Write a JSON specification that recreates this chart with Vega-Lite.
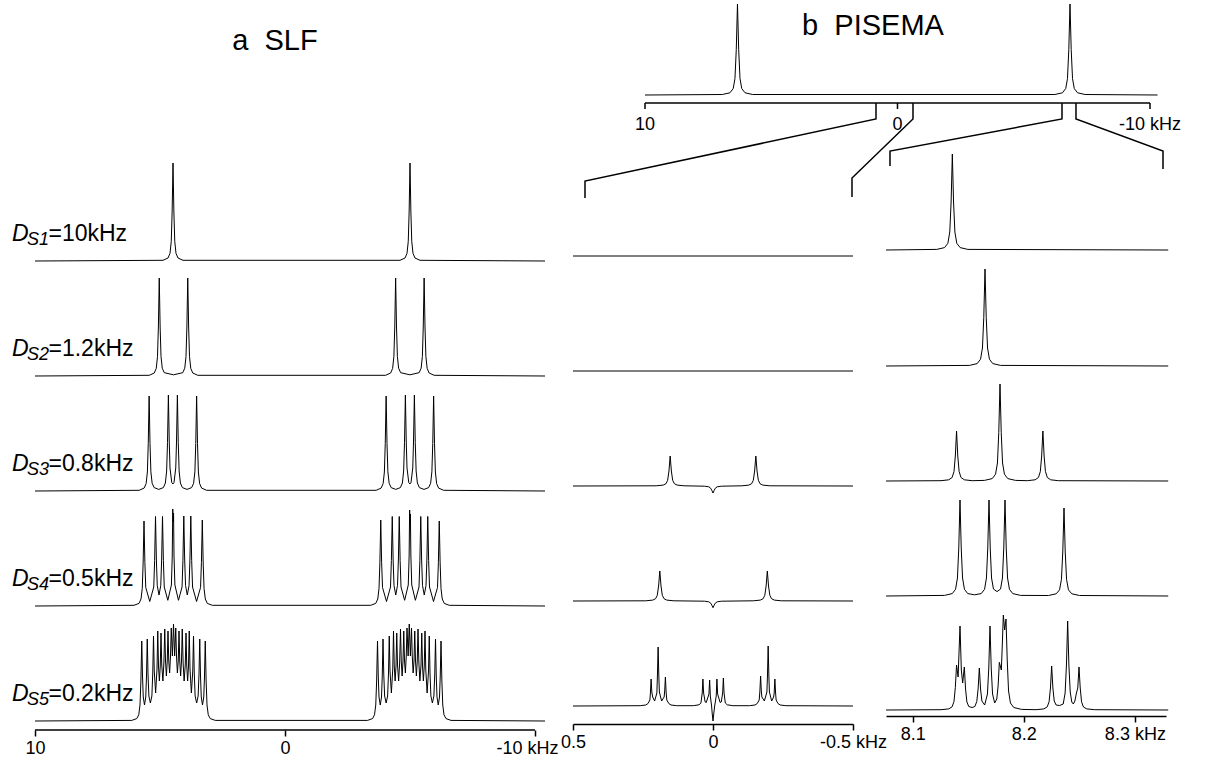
{
"$schema":"https://vega.github.io/schema/vega-lite/v6.json",
"padding":0,
"background":"white",
"bounds":"flush",
"columns":3,
"spacing":{"row":0,"column":33},
"align":{"row":"each","column":"each"},
"config":{"view":{"stroke":null},"font":"Liberation Sans","axis":{"labelFont":"Liberation Sans","labelFontSize":18,"labelColor":"black","tickColor":"black","tickWidth":1.5,"tickSize":6,"domainColor":"black","domainWidth":1.5,"grid":false,"labelFlush":false,"labelOverlap":false,"labelPadding":3},"text":{"font":"Liberation Sans","color":"black"}},
"datasets":{
"T":[{"f":10,"v":0},{"f":6.937,"v":0.5},{"f":6.637,"v":2.2},{"f":6.507,"v":6.4},{"f":6.437,"v":16.4},{"f":6.3845,"v":45.5},{"f":6.337,"v":91},{"f":6.2895,"v":45.5},{"f":6.237,"v":16.4},{"f":6.167,"v":6.4},{"f":6.037,"v":2.2},{"f":5.737,"v":0.5},{"f":-6.232,"v":0.5},{"f":-6.532,"v":2.2},{"f":-6.662,"v":6.4},{"f":-6.732,"v":16.4},{"f":-6.7845,"v":45.5},{"f":-6.832,"v":91},{"f":-6.8795,"v":45.5},{"f":-6.932,"v":16.4},{"f":-7.002,"v":6.4},{"f":-7.132,"v":2.2},{"f":-7.432,"v":0.5},{"f":-10.3,"v":0}],
"axT":[{"a":10,"b":-10}],
"tkT":[{"t":10,"lab":"10"},{"t":0,"lab":"0"},{"t":-10,"lab":"-10 kHz"}],
"axL":[{"a":10,"b":-10}],
"Z":[{"seg":1,"o":1,"f":0.851,"v":-8},{"seg":1,"o":2,"f":0.851,"v":-24},{"seg":1,"o":3,"f":12.376,"v":-86},{"seg":1,"o":4,"f":12.376,"v":-103},
{"seg":2,"o":1,"f":-0.614,"v":-8},{"seg":2,"o":2,"f":-0.614,"v":-24},{"seg":2,"o":3,"f":1.802,"v":-83},{"seg":2,"o":4,"f":1.802,"v":-102},
{"seg":3,"o":1,"f":-6.515,"v":-8},{"seg":3,"o":2,"f":-6.515,"v":-24},{"seg":3,"o":3,"f":0.297,"v":-56},{"seg":3,"o":4,"f":0.297,"v":-71},
{"seg":4,"o":1,"f":-7.069,"v":-8},{"seg":4,"o":2,"f":-7.069,"v":-24},{"seg":4,"o":3,"f":-10.515,"v":-56},{"seg":4,"o":4,"f":-10.515,"v":-74}],
"L1":[{"f":10,"v":0},{"f":4.88,"v":0.7},{"f":4.68,"v":3},{"f":4.6,"v":7.6},{"f":4.55,"v":19.6},{"f":4.515,"v":49},{"f":4.48,"v":98},{"f":4.445,"v":49},{"f":4.41,"v":19.6},{"f":4.36,"v":7.6},{"f":4.28,"v":3},{"f":4.08,"v":0.7},{"f":-4.6,"v":0.7},{"f":-4.8,"v":3},{"f":-4.88,"v":7.6},{"f":-4.93,"v":19.6},{"f":-4.965,"v":49},{"f":-5,"v":98},{"f":-5.035,"v":49},{"f":-5.07,"v":19.6},{"f":-5.12,"v":7.6},{"f":-5.2,"v":3},{"f":-5.4,"v":0.7},{"f":-10.4,"v":0}],
"L2":[{"f":10,"v":0},{"f":5.43,"v":0.7},{"f":5.23,"v":3},{"f":5.15,"v":7.6},{"f":5.1,"v":19.6},{"f":5.065,"v":49},{"f":5.03,"v":98},{"f":4.995,"v":49},{"f":4.96,"v":19.6},{"f":4.91,"v":7.8},{"f":4.83,"v":3.3},{"f":4.46,"v":1.2},{"f":4.09,"v":3.3},{"f":4.01,"v":7.8},{"f":3.96,"v":19.6},{"f":3.925,"v":49},{"f":3.89,"v":98},{"f":3.855,"v":49},{"f":3.82,"v":19.6},{"f":3.77,"v":7.6},{"f":3.69,"v":3},{"f":3.49,"v":0.7},
{"f":-4.025,"v":0.7},{"f":-4.225,"v":3},{"f":-4.305,"v":7.6},{"f":-4.355,"v":19.6},{"f":-4.39,"v":49},{"f":-4.425,"v":98},{"f":-4.46,"v":49},{"f":-4.495,"v":19.6},{"f":-4.545,"v":7.8},{"f":-4.625,"v":3.3},{"f":-4.995,"v":1.2},{"f":-5.365,"v":3.3},{"f":-5.445,"v":7.8},{"f":-5.495,"v":19.6},{"f":-5.53,"v":49},{"f":-5.565,"v":98},{"f":-5.6,"v":49},{"f":-5.635,"v":19.6},{"f":-5.685,"v":7.6},{"f":-5.765,"v":3},{"f":-5.965,"v":0.7},{"f":-10.4,"v":0}],
"L3":[{"f":10,"v":0},{"f":5.835,"v":0.7},{"f":5.635,"v":2.9},{"f":5.555,"v":7.4},{"f":5.505,"v":19},{"f":5.47,"v":47.5},{"f":5.435,"v":95},{"f":5.4,"v":47.5},{"f":5.365,"v":19.2},{"f":5.315,"v":7.8},{"f":5.235,"v":3.4},{"f":5.05,"v":1.6},{"f":4.865,"v":3.4},{"f":4.785,"v":8},{"f":4.735,"v":20},{"f":4.7,"v":48.5},{"f":4.665,"v":96},{"f":4.63,"v":49},{"f":4.6,"v":23},{"f":4.53,"v":8.5},{"f":4.485,"v":7},{"f":4.44,"v":8.5},{"f":4.37,"v":23},{"f":4.34,"v":49},{"f":4.305,"v":96},{"f":4.27,"v":48.5},{"f":4.235,"v":20},{"f":4.185,"v":8},{"f":4.105,"v":3.4},{"f":3.92,"v":1.6},{"f":3.735,"v":3.4},{"f":3.655,"v":7.8},{"f":3.605,"v":19.2},{"f":3.57,"v":47.5},{"f":3.535,"v":95},{"f":3.5,"v":47.5},{"f":3.465,"v":19},{"f":3.415,"v":7.4},{"f":3.335,"v":2.9},{"f":3.135,"v":0.7},
{"f":-3.645,"v":0.7},{"f":-3.845,"v":2.9},{"f":-3.925,"v":7.4},{"f":-3.975,"v":19},{"f":-4.01,"v":47.5},{"f":-4.045,"v":95},{"f":-4.08,"v":47.5},{"f":-4.115,"v":19.2},{"f":-4.165,"v":7.8},{"f":-4.245,"v":3.4},{"f":-4.43,"v":1.6},{"f":-4.615,"v":3.4},{"f":-4.695,"v":8},{"f":-4.745,"v":20},{"f":-4.78,"v":48.5},{"f":-4.815,"v":96},{"f":-4.85,"v":49},{"f":-4.88,"v":23},{"f":-4.95,"v":8.5},{"f":-4.995,"v":7},{"f":-5.04,"v":8.5},{"f":-5.11,"v":23},{"f":-5.14,"v":49},{"f":-5.175,"v":96},{"f":-5.21,"v":48.5},{"f":-5.245,"v":20},{"f":-5.295,"v":8},{"f":-5.375,"v":3.4},{"f":-5.56,"v":1.6},{"f":-5.745,"v":3.4},{"f":-5.825,"v":7.8},{"f":-5.875,"v":19.2},{"f":-5.91,"v":47.5},{"f":-5.945,"v":95},{"f":-5.98,"v":47.5},{"f":-6.015,"v":19},{"f":-6.065,"v":7.4},{"f":-6.145,"v":2.9},{"f":-6.345,"v":0.7},{"f":-10.4,"v":0}],
"L4":[{"f":10,"v":0},{"f":6.04,"v":0.7},{"f":5.84,"v":2.6},{"f":5.76,"v":7},{"f":5.71,"v":17.5},{"f":5.675,"v":43},{"f":5.64,"v":85},{"f":5.605,"v":43.5},{"f":5.57,"v":18.5},{"f":5.41,"v":4.5},{"f":5.25,"v":19},{"f":5.215,"v":45.5},{"f":5.18,"v":89.5},{"f":5.145,"v":46},{"f":5.11,"v":20.5},{"f":5.04,"v":11},{"f":4.97,"v":20.5},{"f":4.935,"v":46},{"f":4.9,"v":89.5},{"f":4.865,"v":45.5},{"f":4.83,"v":19},{"f":4.687,"v":5.7},{"f":4.544,"v":21},{"f":4.51,"v":50},{"f":4.49,"v":97},{"f":4.474,"v":84},{"f":4.458,"v":93},{"f":4.44,"v":50},{"f":4.404,"v":21},{"f":4.261,"v":5.7},{"f":4.118,"v":19},{"f":4.083,"v":45.5},{"f":4.048,"v":90},{"f":4.013,"v":46},{"f":3.978,"v":20.5},{"f":3.908,"v":11},{"f":3.838,"v":20.5},{"f":3.803,"v":46},{"f":3.768,"v":90},{"f":3.733,"v":45.5},{"f":3.698,"v":19},{"f":3.538,"v":4.5},{"f":3.378,"v":18.5},{"f":3.343,"v":43.5},{"f":3.308,"v":86},{"f":3.273,"v":43},{"f":3.238,"v":17.5},{"f":3.188,"v":7},{"f":3.108,"v":2.6},{"f":2.908,"v":0.7},
{"f":-3.43,"v":0.7},{"f":-3.63,"v":2.6},{"f":-3.71,"v":7},{"f":-3.76,"v":17.5},{"f":-3.795,"v":43},{"f":-3.83,"v":86},{"f":-3.865,"v":43.5},{"f":-3.9,"v":18.5},{"f":-4.06,"v":4.5},{"f":-4.22,"v":19},{"f":-4.255,"v":45.5},{"f":-4.29,"v":89.5},{"f":-4.325,"v":46},{"f":-4.36,"v":20.5},{"f":-4.43,"v":11},{"f":-4.5,"v":20.5},{"f":-4.535,"v":46},{"f":-4.57,"v":89.5},{"f":-4.605,"v":45.5},{"f":-4.64,"v":19},{"f":-4.785,"v":5.7},{"f":-4.93,"v":21},{"f":-4.965,"v":50},{"f":-4.985,"v":96},{"f":-5.0,"v":84},{"f":-5.015,"v":92},{"f":-5.035,"v":50},{"f":-5.07,"v":21},{"f":-5.215,"v":5.7},{"f":-5.36,"v":19},{"f":-5.395,"v":45.5},{"f":-5.43,"v":89.5},{"f":-5.465,"v":46},{"f":-5.5,"v":20.5},{"f":-5.57,"v":11},{"f":-5.64,"v":20.5},{"f":-5.675,"v":46},{"f":-5.71,"v":89.5},{"f":-5.745,"v":45.5},{"f":-5.78,"v":19},{"f":-5.94,"v":4.5},{"f":-6.1,"v":18.5},{"f":-6.135,"v":43.5},{"f":-6.17,"v":85},{"f":-6.205,"v":43},{"f":-6.24,"v":17.5},{"f":-6.29,"v":7},{"f":-6.37,"v":2.6},{"f":-6.57,"v":0.7},{"f":-10.4,"v":0}],
"L5":[{"f":10,"v":0},{"f":6.13,"v":0.6},{"f":5.93,"v":2.4},{"f":5.85,"v":6.2},{"f":5.8,"v":16},{"f":5.765,"v":40},{"f":5.73,"v":80},{"f":5.7,"v":45},{"f":5.67,"v":24},{"f":5.62,"v":16},{"f":5.57,"v":24},{"f":5.54,"v":45},{"f":5.51,"v":82},{"f":5.48,"v":47},{"f":5.445,"v":25},{"f":5.385,"v":18},{"f":5.325,"v":25},{"f":5.29,"v":48},{"f":5.26,"v":85},{"f":5.23,"v":50},{"f":5.175,"v":28},{"f":5.12,"v":52},{"f":5.09,"v":90},{"f":5.06,"v":55},{"f":5.025,"v":40},{"f":4.99,"v":55},{"f":4.96,"v":88},{"f":4.93,"v":56},{"f":4.885,"v":40},{"f":4.845,"v":58},{"f":4.81,"v":92},{"f":4.78,"v":60},{"f":4.745,"v":45},{"f":4.71,"v":60},{"f":4.68,"v":90},{"f":4.65,"v":60},{"f":4.615,"v":48},{"f":4.58,"v":65},{"f":4.55,"v":93},{"f":4.505,"v":65},{"f":4.46,"v":97},{"f":4.415,"v":65},{"f":4.37,"v":93},{"f":4.34,"v":65},{"f":4.305,"v":48},{"f":4.27,"v":60},{"f":4.24,"v":90},{"f":4.21,"v":60},{"f":4.175,"v":45},{"f":4.14,"v":60},{"f":4.11,"v":92},{"f":4.075,"v":58},{"f":4.035,"v":40},{"f":3.99,"v":56},{"f":3.96,"v":88},{"f":3.93,"v":55},{"f":3.895,"v":40},{"f":3.86,"v":55},{"f":3.83,"v":90},{"f":3.8,"v":52},{"f":3.745,"v":28},{"f":3.69,"v":50},{"f":3.66,"v":85},{"f":3.63,"v":48},{"f":3.595,"v":25},{"f":3.535,"v":18},{"f":3.475,"v":25},{"f":3.44,"v":47},{"f":3.41,"v":82},{"f":3.38,"v":45},{"f":3.35,"v":24},{"f":3.3,"v":16},{"f":3.25,"v":24},{"f":3.22,"v":45},{"f":3.19,"v":80},{"f":3.155,"v":40},{"f":3.12,"v":16},{"f":3.07,"v":6.2},{"f":2.99,"v":2.4},{"f":2.79,"v":0.6},
{"f":-3.3,"v":0.6},{"f":-3.5,"v":2.4},{"f":-3.58,"v":6.2},{"f":-3.63,"v":16},{"f":-3.665,"v":40},{"f":-3.7,"v":80},{"f":-3.73,"v":45},{"f":-3.76,"v":24},{"f":-3.81,"v":16},{"f":-3.86,"v":24},{"f":-3.89,"v":45},{"f":-3.92,"v":82},{"f":-3.95,"v":47},{"f":-3.985,"v":25},{"f":-4.045,"v":18},{"f":-4.105,"v":25},{"f":-4.14,"v":48},{"f":-4.17,"v":85},{"f":-4.2,"v":50},{"f":-4.255,"v":28},{"f":-4.31,"v":52},{"f":-4.34,"v":90},{"f":-4.37,"v":55},{"f":-4.405,"v":40},{"f":-4.44,"v":55},{"f":-4.47,"v":88},{"f":-4.5,"v":56},{"f":-4.545,"v":40},{"f":-4.585,"v":58},{"f":-4.62,"v":92},{"f":-4.65,"v":60},{"f":-4.685,"v":45},{"f":-4.72,"v":60},{"f":-4.75,"v":90},{"f":-4.78,"v":60},{"f":-4.815,"v":48},{"f":-4.85,"v":65},{"f":-4.88,"v":93},{"f":-4.925,"v":65},{"f":-4.97,"v":97},{"f":-5.015,"v":65},{"f":-5.06,"v":93},{"f":-5.09,"v":65},{"f":-5.125,"v":48},{"f":-5.16,"v":60},{"f":-5.19,"v":90},{"f":-5.22,"v":60},{"f":-5.255,"v":45},{"f":-5.29,"v":60},{"f":-5.32,"v":92},{"f":-5.355,"v":58},{"f":-5.395,"v":40},{"f":-5.44,"v":56},{"f":-5.47,"v":88},{"f":-5.5,"v":55},{"f":-5.535,"v":40},{"f":-5.57,"v":55},{"f":-5.6,"v":90},{"f":-5.63,"v":52},{"f":-5.685,"v":28},{"f":-5.74,"v":50},{"f":-5.77,"v":85},{"f":-5.8,"v":48},{"f":-5.835,"v":25},{"f":-5.895,"v":18},{"f":-5.955,"v":25},{"f":-5.99,"v":47},{"f":-6.02,"v":82},{"f":-6.05,"v":45},{"f":-6.08,"v":24},{"f":-6.13,"v":16},{"f":-6.18,"v":24},{"f":-6.21,"v":45},{"f":-6.24,"v":80},{"f":-6.275,"v":40},{"f":-6.31,"v":16},{"f":-6.36,"v":6.2},{"f":-6.44,"v":2.4},{"f":-6.64,"v":0.6},{"f":-10.4,"v":0}],
"M1":[{"f":0.5,"v":0},{"f":0,"v":0},{"f":-0.5,"v":0}],
"M2":[{"f":0.5,"v":0},{"f":0,"v":0},{"f":-0.5,"v":0}],
"M3":[{"f":0.5,"v":0},{"f":0.203,"v":0.2},{"f":0.178,"v":0.9},{"f":0.168,"v":2.3},{"f":0.162,"v":5.7},{"f":0.1573,"v":15},{"f":0.153,"v":30},{"f":0.1487,"v":15},{"f":0.144,"v":5.7},{"f":0.138,"v":2.3},{"f":0.128,"v":0.9},{"f":0.103,"v":0.2},{"f":0.03,"v":-0.2},{"f":0.015,"v":-0.8},{"f":0.008,"v":-2.3},{"f":0.004,"v":-4.5},{"f":0,"v":-7},{"f":-0.004,"v":-4.5},{"f":-0.008,"v":-2.3},{"f":-0.015,"v":-0.8},{"f":-0.03,"v":-0.2},{"f":-0.103,"v":0.2},{"f":-0.128,"v":0.9},{"f":-0.138,"v":2.3},{"f":-0.144,"v":5.7},{"f":-0.1487,"v":15},{"f":-0.153,"v":30},{"f":-0.1573,"v":15},{"f":-0.162,"v":5.7},{"f":-0.168,"v":2.3},{"f":-0.178,"v":0.9},{"f":-0.203,"v":0.2},{"f":-0.5,"v":0}],
"M4":[{"f":0.5,"v":0},{"f":0.24,"v":0.2},{"f":0.215,"v":0.9},{"f":0.205,"v":2.3},{"f":0.199,"v":5.7},{"f":0.1943,"v":15},{"f":0.19,"v":30},{"f":0.1857,"v":15},{"f":0.181,"v":5.7},{"f":0.175,"v":2.3},{"f":0.165,"v":0.9},{"f":0.14,"v":0.2},{"f":0.03,"v":-0.2},{"f":0.015,"v":-0.8},{"f":0.008,"v":-2.2},{"f":0.004,"v":-4.3},{"f":0,"v":-6.7},{"f":-0.004,"v":-4.3},{"f":-0.008,"v":-2.2},{"f":-0.015,"v":-0.8},{"f":-0.03,"v":-0.2},{"f":-0.144,"v":0.2},{"f":-0.169,"v":0.9},{"f":-0.179,"v":2.3},{"f":-0.185,"v":5.7},{"f":-0.1897,"v":15},{"f":-0.194,"v":30},{"f":-0.1983,"v":15},{"f":-0.203,"v":5.7},{"f":-0.209,"v":2.3},{"f":-0.219,"v":0.9},{"f":-0.244,"v":0.2},{"f":-0.5,"v":0}],
"M5":[{"f":0.5,"v":0},{"f":0.26,"v":0.3},{"f":0.24,"v":1},{"f":0.232,"v":2.5},{"f":0.2255,"v":6},{"f":0.2235,"v":13},{"f":0.221,"v":27},{"f":0.2185,"v":14},{"f":0.2155,"v":9},{"f":0.2085,"v":5},{"f":0.2005,"v":13},{"f":0.1985,"v":30},{"f":0.196,"v":59},{"f":0.1935,"v":30},{"f":0.1915,"v":14},{"f":0.1835,"v":5},{"f":0.1745,"v":9},{"f":0.1725,"v":15},{"f":0.17,"v":29},{"f":0.1675,"v":14},{"f":0.165,"v":6},{"f":0.158,"v":2.5},{"f":0.15,"v":1},{"f":0.13,"v":0.3},{"f":0.07,"v":0.3},{"f":0.05,"v":1.2},{"f":0.043,"v":3},{"f":0.0385,"v":13},{"f":0.036,"v":27},{"f":0.0335,"v":13},{"f":0.028,"v":4},{"f":0.024,"v":3.5},{"f":0.0145,"v":12},{"f":0.012,"v":26},{"f":0.0095,"v":10},{"f":0.005,"v":0},{"f":0.003,"v":-7},{"f":0,"v":-15},{"f":-0.003,"v":-7},{"f":-0.006,"v":0},{"f":-0.0115,"v":10},{"f":-0.014,"v":27},{"f":-0.0165,"v":12},{"f":-0.0255,"v":3.5},{"f":-0.0295,"v":4},{"f":-0.0345,"v":13},{"f":-0.037,"v":28},{"f":-0.0395,"v":13},{"f":-0.044,"v":3},{"f":-0.051,"v":1.2},{"f":-0.071,"v":0.3},{"f":-0.13,"v":0.3},{"f":-0.15,"v":1},{"f":-0.158,"v":2.5},{"f":-0.165,"v":6},{"f":-0.1675,"v":15},{"f":-0.17,"v":30},{"f":-0.1725,"v":15},{"f":-0.1745,"v":9},{"f":-0.1835,"v":5},{"f":-0.1925,"v":14},{"f":-0.1945,"v":30},{"f":-0.197,"v":60},{"f":-0.1995,"v":30},{"f":-0.2015,"v":14},{"f":-0.2095,"v":5},{"f":-0.2165,"v":9},{"f":-0.2185,"v":13},{"f":-0.221,"v":27},{"f":-0.2235,"v":13},{"f":-0.2255,"v":6},{"f":-0.232,"v":2.5},{"f":-0.24,"v":1},{"f":-0.26,"v":0.3},{"f":-0.5,"v":0}],
"R1":[{"f":8.076,"v":0},{"f":8.1217,"v":0.6},{"f":8.1287,"v":2.4},{"f":8.1317,"v":6.7},{"f":8.1334,"v":18},{"f":8.1346,"v":48},{"f":8.1357,"v":96},{"f":8.1368,"v":48},{"f":8.138,"v":18},{"f":8.1397,"v":6.7},{"f":8.1427,"v":2.4},{"f":8.1497,"v":0.6},{"f":8.33,"v":0}],
"R2":[{"f":8.076,"v":0},{"f":8.1511,"v":0.6},{"f":8.1581,"v":2.4},{"f":8.1611,"v":6.8},{"f":8.1628,"v":18},{"f":8.164,"v":48.5},{"f":8.1651,"v":97},{"f":8.1662,"v":48.5},{"f":8.1674,"v":18},{"f":8.1691,"v":6.8},{"f":8.1721,"v":2.4},{"f":8.1791,"v":0.6},{"f":8.33,"v":0}],
"R3":[{"f":8.076,"v":0},{"f":8.1255,"v":0.3},{"f":8.1325,"v":1.2},{"f":8.1355,"v":3.5},{"f":8.1372,"v":9.5},{"f":8.1384,"v":25},{"f":8.1395,"v":50},{"f":8.1406,"v":25},{"f":8.1418,"v":9.5},{"f":8.1435,"v":3.5},{"f":8.1465,"v":1.2},{"f":8.1535,"v":0.3},{"f":8.1646,"v":0.6},{"f":8.1716,"v":2.4},{"f":8.1746,"v":6.8},{"f":8.1763,"v":18},{"f":8.1775,"v":48.5},{"f":8.1786,"v":97},{"f":8.1797,"v":48.5},{"f":8.1809,"v":18},{"f":8.1826,"v":6.8},{"f":8.1856,"v":2.4},{"f":8.1926,"v":0.6},{"f":8.2032,"v":0.3},{"f":8.2102,"v":1.2},{"f":8.2132,"v":3.5},{"f":8.2149,"v":9.5},{"f":8.2161,"v":25},{"f":8.2172,"v":50},{"f":8.2183,"v":25},{"f":8.2195,"v":9.5},{"f":8.2212,"v":3.5},{"f":8.2242,"v":1.2},{"f":8.2312,"v":0.3},{"f":8.33,"v":0}],
"R4":[{"f":8.076,"v":0},{"f":8.1286,"v":0.6},{"f":8.1356,"v":2.4},{"f":8.1386,"v":6.7},{"f":8.1403,"v":18},{"f":8.1415,"v":48},{"f":8.1426,"v":96},{"f":8.1437,"v":48},{"f":8.1449,"v":18},{"f":8.1466,"v":6.7},{"f":8.1496,"v":2.4},{"f":8.1557,"v":1.2},{"f":8.1617,"v":2.4},{"f":8.1647,"v":6.7},{"f":8.1664,"v":18},{"f":8.1676,"v":48},{"f":8.1687,"v":96},{"f":8.1698,"v":48},{"f":8.171,"v":18},{"f":8.1727,"v":7},{"f":8.1759,"v":4.4},{"f":8.1791,"v":7},{"f":8.1808,"v":18},{"f":8.182,"v":48},{"f":8.1831,"v":96},{"f":8.1842,"v":48},{"f":8.1854,"v":18},{"f":8.1871,"v":6.7},{"f":8.1901,"v":2.4},{"f":8.1971,"v":0.6},{"f":8.2222,"v":0.5},{"f":8.2292,"v":2.2},{"f":8.2322,"v":6.2},{"f":8.2339,"v":16.7},{"f":8.2351,"v":44},{"f":8.2362,"v":88},{"f":8.2373,"v":44},{"f":8.2385,"v":16.7},{"f":8.2402,"v":6.2},{"f":8.2432,"v":2.2},{"f":8.2502,"v":0.5},{"f":8.33,"v":0}],
"R5":[{"f":8.076,"v":0},{"f":8.1255,"v":0.3},{"f":8.1325,"v":1.1},{"f":8.1355,"v":3.2},{"f":8.1372,"v":8.6},{"f":8.1384,"v":22.5},{"f":8.1395,"v":45},{"f":8.1409,"v":33},{"f":8.1426,"v":84},{"f":8.1438,"v":40},{"f":8.145,"v":27},{"f":8.1465,"v":43},{"f":8.1476,"v":21},{"f":8.1488,"v":8},{"f":8.1505,"v":3.5},{"f":8.1535,"v":2.5},{"f":8.156,"v":3.5},{"f":8.1577,"v":8.5},{"f":8.1589,"v":21},{"f":8.16,"v":42},{"f":8.1611,"v":21},{"f":8.1623,"v":9},{"f":8.1648,"v":5},{"f":8.1673,"v":16},{"f":8.1685,"v":42},{"f":8.1696,"v":84},{"f":8.1707,"v":42},{"f":8.1719,"v":16},{"f":8.1738,"v":7},{"f":8.1757,"v":11},{"f":8.1769,"v":24},{"f":8.178,"v":47.6},{"f":8.1798,"v":40},{"f":8.1805,"v":60},{"f":8.1816,"v":95},{"f":8.1828,"v":80},{"f":8.184,"v":91},{"f":8.1851,"v":50},{"f":8.1863,"v":19},{"f":8.188,"v":7},{"f":8.191,"v":2.5},{"f":8.198,"v":0.6},{"f":8.2111,"v":0.3},{"f":8.2181,"v":1.1},{"f":8.2211,"v":3.1},{"f":8.2228,"v":8.4},{"f":8.224,"v":22},{"f":8.2251,"v":44},{"f":8.2262,"v":22},{"f":8.2274,"v":9},{"f":8.2291,"v":5},{"f":8.2323,"v":4.5},{"f":8.2355,"v":6},{"f":8.2372,"v":17},{"f":8.2384,"v":45},{"f":8.2395,"v":89},{"f":8.2406,"v":45},{"f":8.2418,"v":18},{"f":8.2432,"v":8},{"f":8.2446,"v":6},{"f":8.246,"v":9},{"f":8.2474,"v":17},{"f":8.2486,"v":22},{"f":8.2497,"v":43},{"f":8.2508,"v":22},{"f":8.252,"v":8.2},{"f":8.2537,"v":3},{"f":8.2567,"v":1.1},{"f":8.2637,"v":0.3},{"f":8.33,"v":0}]
},
"concat":[
 {"width":540,"height":149,"data":{"values":[{"t":"a\u00a0\u00a0SLF"}]},"mark":{"type":"text","fontSize":29,"align":"center","baseline":"middle"},"encoding":{"text":{"field":"t"},"x":{"datum":0.4,"type":"quantitative","scale":{"domain":[11.4,-10.2],"nice":false},"axis":null},"y":{"datum":109,"type":"quantitative","scale":{"domain":[0,149],"nice":false},"axis":null}}},
 {"width":280,"height":102,"layer":[
  {"data":{"name":"T"},"mark":{"type":"line","color":"black","strokeWidth":1},"encoding":{"x":{"field":"f","type":"quantitative","scale":{"domain":[12.851,1.762],"nice":false},"axis":null},"y":{"field":"v","type":"quantitative","scale":{"domain":[-8,94],"nice":false},"axis":null}}},
  {"data":{"name":"axT"},"mark":{"type":"rule","color":"black","strokeWidth":1.5},"encoding":{"x":{"field":"a","type":"quantitative","scale":{"domain":[12.851,1.762],"nice":false},"axis":null},"x2":{"field":"b"},"y":{"datum":-8,"type":"quantitative","scale":{"domain":[-8,94],"nice":false},"axis":null}}},
  {"data":{"name":"tkT"},"mark":{"type":"rule","color":"black","strokeWidth":1.5},"encoding":{"x":{"field":"t","type":"quantitative","scale":{"domain":[12.851,1.762],"nice":false},"axis":null},"y":{"datum":-8,"type":"quantitative","scale":{"domain":[-8,94],"nice":false},"axis":null},"y2":{"datum":-14}}},
  {"data":{"name":"tkT"},"mark":{"type":"text","fontSize":18,"align":"center","baseline":"top"},"encoding":{"text":{"field":"lab"},"x":{"field":"t","type":"quantitative","scale":{"domain":[12.851,1.762],"nice":false},"axis":null},"y":{"datum":-21,"type":"quantitative","scale":{"domain":[-8,94],"nice":false},"axis":null}}},
  {"data":{"name":"Z"},"mark":{"type":"line","color":"black","strokeWidth":1.5},"encoding":{"x":{"field":"f","type":"quantitative","scale":{"domain":[12.851,1.762],"nice":false},"axis":null},"y":{"field":"v","type":"quantitative","scale":{"domain":[-8,94],"nice":false},"axis":null},"detail":{"field":"seg","type":"nominal"},"order":{"field":"o","type":"quantitative"}}},
  {"data":{"values":[{"t":"b\u00a0\u00a0PISEMA"}]},"mark":{"type":"text","fontSize":29,"align":"center","baseline":"middle"},"encoding":{"text":{"field":"t"},"x":{"datum":0.97,"type":"quantitative","scale":{"domain":[12.851,1.762],"nice":false},"axis":null},"y":{"datum":69,"type":"quantitative","scale":{"domain":[-8,94],"nice":false},"axis":null}}}
 ]},
 {"width":10,"height":10,"data":{"values":[{"t":""}]},"mark":{"type":"text"},"encoding":{"text":{"field":"t"}}},
 {"width":540,"height":115,"layer":[
  {"data":{"name":"L1"},"mark":{"type":"line","color":"black","strokeWidth":1},"encoding":{"x":{"field":"f","type":"quantitative","scale":{"domain":[11.4,-10.2],"nice":false},"axis":null},"y":{"field":"v","type":"quantitative","scale":{"domain":[-4,111],"nice":false},"axis":null}}},
  {"data":{"values":[{"d":"D","s":"S1","e":"=10kHz"}]},"encoding":{"x":{"datum":10.92,"type":"quantitative","scale":{"domain":[11.4,-10.2],"nice":false},"axis":null},"y":{"datum":20,"type":"quantitative","scale":{"domain":[-4,111],"nice":false},"axis":null}},"layer":[
   {"mark":{"type":"text","fontStyle":"italic","fontSize":23,"align":"left","baseline":"alphabetic"},"encoding":{"text":{"field":"d"}}},
   {"mark":{"type":"text","fontStyle":"italic","fontSize":18,"align":"left","baseline":"alphabetic"},"encoding":{"text":{"field":"s"},"x":{"datum":10.32,"type":"quantitative","scale":{"domain":[11.4,-10.2],"nice":false},"axis":null},"y":{"datum":16,"type":"quantitative","scale":{"domain":[-4,111],"nice":false},"axis":null}}},
   {"mark":{"type":"text","fontSize":23,"align":"left","baseline":"alphabetic"},"encoding":{"text":{"field":"e"},"x":{"datum":9.46,"type":"quantitative","scale":{"domain":[11.4,-10.2],"nice":false},"axis":null}}}
  ]}
 ]},
 {"width":280,"height":115,"data":{"name":"M1"},"mark":{"type":"line","color":"black","strokeWidth":1},"encoding":{"x":{"field":"f","type":"quantitative","scale":{"domain":[0.5,-0.5],"nice":false},"axis":null},"y":{"field":"v","type":"quantitative","scale":{"domain":[-9,106],"nice":false},"axis":null}}},
 {"width":280,"height":115,"data":{"name":"R1"},"mark":{"type":"line","color":"black","strokeWidth":1},"encoding":{"x":{"field":"f","type":"quantitative","scale":{"domain":[8.076,8.328],"nice":false},"axis":null},"y":{"field":"v","type":"quantitative","scale":{"domain":[-15,100],"nice":false},"axis":null}}},
 {"width":540,"height":115,"layer":[
  {"data":{"name":"L2"},"mark":{"type":"line","color":"black","strokeWidth":1},"encoding":{"x":{"field":"f","type":"quantitative","scale":{"domain":[11.4,-10.2],"nice":false},"axis":null},"y":{"field":"v","type":"quantitative","scale":{"domain":[-4,111],"nice":false},"axis":null}}},
  {"data":{"values":[{"d":"D","s":"S2","e":"=1.2kHz"}]},"encoding":{"x":{"datum":10.92,"type":"quantitative","scale":{"domain":[11.4,-10.2],"nice":false},"axis":null},"y":{"datum":20,"type":"quantitative","scale":{"domain":[-4,111],"nice":false},"axis":null}},"layer":[
   {"mark":{"type":"text","fontStyle":"italic","fontSize":23,"align":"left","baseline":"alphabetic"},"encoding":{"text":{"field":"d"}}},
   {"mark":{"type":"text","fontStyle":"italic","fontSize":18,"align":"left","baseline":"alphabetic"},"encoding":{"text":{"field":"s"},"x":{"datum":10.32,"type":"quantitative","scale":{"domain":[11.4,-10.2],"nice":false},"axis":null},"y":{"datum":16,"type":"quantitative","scale":{"domain":[-4,111],"nice":false},"axis":null}}},
   {"mark":{"type":"text","fontSize":23,"align":"left","baseline":"alphabetic"},"encoding":{"text":{"field":"e"},"x":{"datum":9.46,"type":"quantitative","scale":{"domain":[11.4,-10.2],"nice":false},"axis":null}}}
  ]}
 ]},
 {"width":280,"height":115,"data":{"name":"M2"},"mark":{"type":"line","color":"black","strokeWidth":1},"encoding":{"x":{"field":"f","type":"quantitative","scale":{"domain":[0.5,-0.5],"nice":false},"axis":null},"y":{"field":"v","type":"quantitative","scale":{"domain":[-9,106],"nice":false},"axis":null}}},
 {"width":280,"height":115,"data":{"name":"R2"},"mark":{"type":"line","color":"black","strokeWidth":1},"encoding":{"x":{"field":"f","type":"quantitative","scale":{"domain":[8.076,8.328],"nice":false},"axis":null},"y":{"field":"v","type":"quantitative","scale":{"domain":[-14,101],"nice":false},"axis":null}}},
 {"width":540,"height":115,"layer":[
  {"data":{"name":"L3"},"mark":{"type":"line","color":"black","strokeWidth":1},"encoding":{"x":{"field":"f","type":"quantitative","scale":{"domain":[11.4,-10.2],"nice":false},"axis":null},"y":{"field":"v","type":"quantitative","scale":{"domain":[-4,111],"nice":false},"axis":null}}},
  {"data":{"values":[{"d":"D","s":"S3","e":"=0.8kHz"}]},"encoding":{"x":{"datum":10.92,"type":"quantitative","scale":{"domain":[11.4,-10.2],"nice":false},"axis":null},"y":{"datum":20,"type":"quantitative","scale":{"domain":[-4,111],"nice":false},"axis":null}},"layer":[
   {"mark":{"type":"text","fontStyle":"italic","fontSize":23,"align":"left","baseline":"alphabetic"},"encoding":{"text":{"field":"d"}}},
   {"mark":{"type":"text","fontStyle":"italic","fontSize":18,"align":"left","baseline":"alphabetic"},"encoding":{"text":{"field":"s"},"x":{"datum":10.32,"type":"quantitative","scale":{"domain":[11.4,-10.2],"nice":false},"axis":null},"y":{"datum":16,"type":"quantitative","scale":{"domain":[-4,111],"nice":false},"axis":null}}},
   {"mark":{"type":"text","fontSize":23,"align":"left","baseline":"alphabetic"},"encoding":{"text":{"field":"e"},"x":{"datum":9.46,"type":"quantitative","scale":{"domain":[11.4,-10.2],"nice":false},"axis":null}}}
  ]}
 ]},
 {"width":280,"height":115,"data":{"name":"M3"},"mark":{"type":"line","color":"black","strokeWidth":1},"encoding":{"x":{"field":"f","type":"quantitative","scale":{"domain":[0.5,-0.5],"nice":false},"axis":null},"y":{"field":"v","type":"quantitative","scale":{"domain":[-9,106],"nice":false},"axis":null}}},
 {"width":280,"height":115,"data":{"name":"R3"},"mark":{"type":"line","color":"black","strokeWidth":1},"encoding":{"x":{"field":"f","type":"quantitative","scale":{"domain":[8.076,8.328],"nice":false},"axis":null},"y":{"field":"v","type":"quantitative","scale":{"domain":[-14,101],"nice":false},"axis":null}}},
 {"width":540,"height":115,"layer":[
  {"data":{"name":"L4"},"mark":{"type":"line","color":"black","strokeWidth":1},"encoding":{"x":{"field":"f","type":"quantitative","scale":{"domain":[11.4,-10.2],"nice":false},"axis":null},"y":{"field":"v","type":"quantitative","scale":{"domain":[-4,111],"nice":false},"axis":null}}},
  {"data":{"values":[{"d":"D","s":"S4","e":"=0.5kHz"}]},"encoding":{"x":{"datum":10.92,"type":"quantitative","scale":{"domain":[11.4,-10.2],"nice":false},"axis":null},"y":{"datum":20,"type":"quantitative","scale":{"domain":[-4,111],"nice":false},"axis":null}},"layer":[
   {"mark":{"type":"text","fontStyle":"italic","fontSize":23,"align":"left","baseline":"alphabetic"},"encoding":{"text":{"field":"d"}}},
   {"mark":{"type":"text","fontStyle":"italic","fontSize":18,"align":"left","baseline":"alphabetic"},"encoding":{"text":{"field":"s"},"x":{"datum":10.32,"type":"quantitative","scale":{"domain":[11.4,-10.2],"nice":false},"axis":null},"y":{"datum":16,"type":"quantitative","scale":{"domain":[-4,111],"nice":false},"axis":null}}},
   {"mark":{"type":"text","fontSize":23,"align":"left","baseline":"alphabetic"},"encoding":{"text":{"field":"e"},"x":{"datum":9.46,"type":"quantitative","scale":{"domain":[11.4,-10.2],"nice":false},"axis":null}}}
  ]}
 ]},
 {"width":280,"height":115,"data":{"name":"M4"},"mark":{"type":"line","color":"black","strokeWidth":1},"encoding":{"x":{"field":"f","type":"quantitative","scale":{"domain":[0.5,-0.5],"nice":false},"axis":null},"y":{"field":"v","type":"quantitative","scale":{"domain":[-9,106],"nice":false},"axis":null}}},
 {"width":280,"height":115,"data":{"name":"R4"},"mark":{"type":"line","color":"black","strokeWidth":1},"encoding":{"x":{"field":"f","type":"quantitative","scale":{"domain":[8.076,8.328],"nice":false},"axis":null},"y":{"field":"v","type":"quantitative","scale":{"domain":[-14,101],"nice":false},"axis":null}}},
 {"width":540,"height":120,"layer":[
  {"data":{"name":"L5"},"mark":{"type":"line","color":"black","strokeWidth":1},"encoding":{"x":{"field":"f","type":"quantitative","scale":{"domain":[11.4,-10.2],"nice":false},"axis":{"values":[10,0,-10],"domain":false,"title":null,"labelOffset":{"condition":{"test":"datum.value == -10","value":-8},"value":0},"labelExpr":"datum.value == 10 ? '10' : (datum.value == 0 ? '0' : '-10 kHz')"}},"y":{"field":"v","type":"quantitative","scale":{"domain":[-9,111],"nice":false},"axis":null}}},
  {"data":{"name":"axL"},"mark":{"type":"rule","color":"black","strokeWidth":1.5},"encoding":{"x":{"field":"a","type":"quantitative","scale":{"domain":[11.4,-10.2],"nice":false},"axis":{"values":[10,0,-10],"domain":false,"title":null,"labelOffset":{"condition":{"test":"datum.value == -10","value":-8},"value":0},"labelExpr":"datum.value == 10 ? '10' : (datum.value == 0 ? '0' : '-10 kHz')"}},"x2":{"field":"b"},"y":{"datum":-9,"type":"quantitative","scale":{"domain":[-9,111],"nice":false},"axis":null}}},
  {"data":{"values":[{"d":"D","s":"S5","e":"=0.2kHz"}]},"encoding":{"x":{"datum":10.92,"type":"quantitative","scale":{"domain":[11.4,-10.2],"nice":false},"axis":{"values":[10,0,-10],"domain":false,"title":null,"labelOffset":{"condition":{"test":"datum.value == -10","value":-8},"value":0},"labelExpr":"datum.value == 10 ? '10' : (datum.value == 0 ? '0' : '-10 kHz')"}},"y":{"datum":20,"type":"quantitative","scale":{"domain":[-9,111],"nice":false},"axis":null}},"layer":[
   {"mark":{"type":"text","fontStyle":"italic","fontSize":23,"align":"left","baseline":"alphabetic"},"encoding":{"text":{"field":"d"}}},
   {"mark":{"type":"text","fontStyle":"italic","fontSize":18,"align":"left","baseline":"alphabetic"},"encoding":{"text":{"field":"s"},"x":{"datum":10.32,"type":"quantitative","scale":{"domain":[11.4,-10.2],"nice":false},"axis":{"values":[10,0,-10],"domain":false,"title":null,"labelOffset":{"condition":{"test":"datum.value == -10","value":-8},"value":0},"labelExpr":"datum.value == 10 ? '10' : (datum.value == 0 ? '0' : '-10 kHz')"}},"y":{"datum":16,"type":"quantitative","scale":{"domain":[-9,111],"nice":false},"axis":null}}},
   {"mark":{"type":"text","fontSize":23,"align":"left","baseline":"alphabetic"},"encoding":{"text":{"field":"e"},"x":{"datum":9.46,"type":"quantitative","scale":{"domain":[11.4,-10.2],"nice":false},"axis":{"values":[10,0,-10],"domain":false,"title":null,"labelOffset":{"condition":{"test":"datum.value == -10","value":-8},"value":0},"labelExpr":"datum.value == 10 ? '10' : (datum.value == 0 ? '0' : '-10 kHz')"}}}}
  ]}
 ]},
 {"width":280,"height":114,"data":{"name":"M5"},"mark":{"type":"line","color":"black","strokeWidth":1},"encoding":{"x":{"field":"f","type":"quantitative","scale":{"domain":[0.5,-0.5],"nice":false},"axis":{"values":[0.5,0,-0.5],"domain":true,"title":null,"labelExpr":"datum.value == 0.5 ? '0.5' : (datum.value == 0 ? '0' : '-0.5 kHz')"}},"y":{"field":"v","type":"quantitative","scale":{"domain":[-18,96],"nice":false},"axis":null}}},
 {"width":280,"height":106,"data":{"name":"R5"},"mark":{"type":"line","color":"black","strokeWidth":1},"encoding":{"x":{"field":"f","type":"quantitative","scale":{"domain":[8.076,8.328],"nice":false},"axis":{"values":[8.1,8.2,8.3],"domain":true,"title":null,"labelExpr":"datum.value < 8.15 ? '8.1' : (datum.value < 8.25 ? '8.2' : '8.3 kHz')"}},"y":{"field":"v","type":"quantitative","scale":{"domain":[-6,100],"nice":false},"axis":null}}}
]
}
